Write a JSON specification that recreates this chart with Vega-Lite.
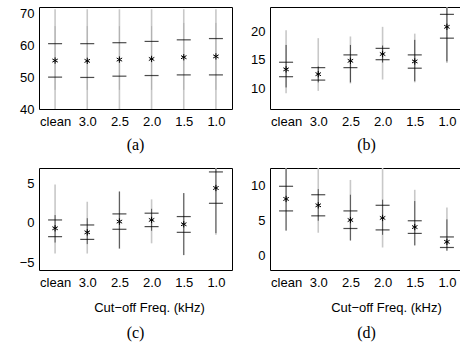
{
  "$schema": "https://vega.github.io/schema/vega-lite/v6.json",
  "padding": {"left": 18, "top": 6, "right": 0, "bottom": 0},
  "background": "white",
  "data": {"values": [
    {"panel": "a", "cat": "clean", "gmin": 40, "gmax": 71.3, "dmin": 46, "dmax": 66, "lo": 50.0, "mean": 55.2, "hi": 60.5},
    {"panel": "a", "cat": "3.0", "gmin": 40, "gmax": 71.3, "dmin": 46, "dmax": 66, "lo": 49.9, "mean": 55.1, "hi": 60.5},
    {"panel": "a", "cat": "2.5", "gmin": 40, "gmax": 71.3, "dmin": 46, "dmax": 66, "lo": 50.3, "mean": 55.5, "hi": 60.8},
    {"panel": "a", "cat": "2.0", "gmin": 40, "gmax": 71.3, "dmin": 46, "dmax": 66, "lo": 50.5, "mean": 55.7, "hi": 61.2},
    {"panel": "a", "cat": "1.5", "gmin": 40, "gmax": 71.3, "dmin": 46, "dmax": 67, "lo": 50.7, "mean": 56.25, "hi": 61.7},
    {"panel": "a", "cat": "1.0", "gmin": 40, "gmax": 71.3, "dmin": 46, "dmax": 67, "lo": 50.7, "mean": 56.5, "hi": 62.1},
    {"panel": "b", "cat": "clean", "gmin": 9.1, "gmax": 20.2, "dmin": 10.1, "dmax": 17.6, "lo": 12.0, "mean": 13.3, "hi": 14.55},
    {"panel": "b", "cat": "3.0", "gmin": 9.5, "gmax": 18.8, "dmin": 11.0, "dmax": 13.8, "lo": 11.4, "mean": 12.45, "hi": 13.6},
    {"panel": "b", "cat": "2.5", "gmin": 10.8, "gmax": 19.1, "dmin": 11.0, "dmax": 17.6, "lo": 13.6, "mean": 14.8, "hi": 15.85},
    {"panel": "b", "cat": "2.0", "gmin": 11.5, "gmax": 20.8, "dmin": 14.5, "dmax": 17.5, "lo": 15.0, "mean": 16.0, "hi": 17.0},
    {"panel": "b", "cat": "1.5", "gmin": 11.0, "gmax": 19.6, "dmin": 11.2, "dmax": 18.5, "lo": 13.5, "mean": 14.7, "hi": 15.85},
    {"panel": "b", "cat": "1.0", "gmin": 14.4, "gmax": 25, "dmin": 14.7, "dmax": 25, "lo": 18.8, "mean": 20.8, "hi": 23.0},
    {"panel": "c", "cat": "clean", "gmin": -3.9, "gmax": 4.9, "dmin": -2.5, "dmax": 1.0, "lo": -1.75, "mean": -0.68, "hi": 0.38},
    {"panel": "c", "cat": "3.0", "gmin": -3.9, "gmax": 2.7, "dmin": -2.7, "dmax": 0.6, "lo": -2.1, "mean": -1.2, "hi": -0.26},
    {"panel": "c", "cat": "2.5", "gmin": -3.3, "gmax": 4.0, "dmin": -3.25, "dmax": 4.0, "lo": -0.81, "mean": 0.17, "hi": 1.15},
    {"panel": "c", "cat": "2.0", "gmin": -2.6, "gmax": 3.0, "dmin": -1.0, "dmax": 1.8, "lo": -0.47, "mean": 0.38, "hi": 1.24},
    {"panel": "c", "cat": "1.5", "gmin": -4.1, "gmax": 3.8, "dmin": -4.1, "dmax": 3.8, "lo": -1.2, "mean": -0.17, "hi": 0.81},
    {"panel": "c", "cat": "1.0", "gmin": -1.5, "gmax": 7.5, "dmin": -1.3, "dmax": 7.5, "lo": 2.5, "mean": 4.45, "hi": 6.5},
    {"panel": "d", "cat": "clean", "gmin": 3.6, "gmax": 13, "dmin": 3.6, "dmax": 13, "lo": 6.4, "mean": 8.1, "hi": 9.9},
    {"panel": "d", "cat": "3.0", "gmin": 3.3, "gmax": 13, "dmin": 5.0, "dmax": 9.5, "lo": 5.7, "mean": 7.2, "hi": 8.7},
    {"panel": "d", "cat": "2.5", "gmin": 2.2, "gmax": 10.8, "dmin": 2.2, "dmax": 8.7, "lo": 3.9, "mean": 5.1, "hi": 6.4},
    {"panel": "d", "cat": "2.0", "gmin": 1.2, "gmax": 13, "dmin": 3.0, "dmax": 8.0, "lo": 3.7, "mean": 5.4, "hi": 7.2},
    {"panel": "d", "cat": "1.5", "gmin": 1.5, "gmax": 9.4, "dmin": 1.5, "dmax": 7.8, "lo": 3.2, "mean": 4.1, "hi": 5.0},
    {"panel": "d", "cat": "1.0", "gmin": 0.75, "gmax": 6.9, "dmin": 0.75, "dmax": 5.2, "lo": 1.2, "mean": 2.0, "hi": 2.7}
  ]},
  "columns": 2,
  "align": "each",
  "spacing": {"row": 13, "column": 16},
  "concat": [
    {
      "width": 193, "height": 102,
      "title": {"text": "(a)", "orient": "bottom", "anchor": "middle", "frame": "group", "offset": 9},
      "transform": [{"filter": "datum.panel == 'a'"}],
      "encoding": {
        "x": {"field": "cat", "type": "ordinal", "sort": ["clean", "3.0", "2.5", "2.0", "1.5", "1.0"], "scale": {"type": "point", "padding": 0.5}, "axis": {"title": null}},
        "y": {"field": "gmin", "type": "quantitative", "scale": {"domain": [40, 72], "nice": false, "zero": false}, "axis": {"tickCount": 4, "title": null}}
      },
      "layer": [
        {"mark": {"type": "rule", "color": "#c8c8c8", "strokeWidth": 1.6, "clip": true}, "encoding": {"y2": {"field": "gmax"}}},
        {"mark": {"type": "rule", "color": "#b0b0b0", "strokeWidth": 1, "clip": true}, "encoding": {"y": {"field": "dmin", "type": "quantitative"}, "y2": {"field": "dmax"}}},
        {"mark": {"type": "tick", "color": "black", "size": 14, "thickness": 1.2}, "encoding": {"y": {"field": "lo", "type": "quantitative"}}},
        {"mark": {"type": "tick", "color": "black", "size": 14, "thickness": 1.2}, "encoding": {"y": {"field": "hi", "type": "quantitative"}}},
        {"mark": {"type": "point", "shape": "M0,-1L0,1M-0.866,-0.5L0.866,0.5M-0.866,0.5L0.866,-0.5", "filled": false, "stroke": "black", "strokeWidth": 1, "size": 40, "opacity": 1}, "encoding": {"y": {"field": "mean", "type": "quantitative"}}}
      ]
    },
    {
      "width": 193, "height": 102,
      "title": {"text": "(b)", "orient": "bottom", "anchor": "middle", "frame": "group", "offset": 9},
      "transform": [{"filter": "datum.panel == 'b'"}],
      "encoding": {
        "x": {"field": "cat", "type": "ordinal", "sort": ["clean", "3.0", "2.5", "2.0", "1.5", "1.0"], "scale": {"type": "point", "padding": 0.5}, "axis": {"title": null}}
      },
      "layer": [
        {"mark": {"type": "rule", "color": "#c8c8c8", "strokeWidth": 1.6, "clip": true}, "encoding": {"y": {"field": "gmin", "type": "quantitative", "scale": {"domain": [6.3, 24.3], "nice": false, "zero": false}, "axis": {"values": [10, 15, 20], "title": null}}, "y2": {"field": "gmax"}}},
        {"mark": {"type": "rule", "color": "#444444", "strokeWidth": 1, "clip": true}, "encoding": {"y": {"field": "dmin", "type": "quantitative"}, "y2": {"field": "dmax"}}},
        {"mark": {"type": "tick", "color": "black", "size": 14, "thickness": 1.2}, "encoding": {"y": {"field": "lo", "type": "quantitative"}}},
        {"mark": {"type": "tick", "color": "black", "size": 14, "thickness": 1.2, "clip": true}, "encoding": {"y": {"field": "hi", "type": "quantitative"}}},
        {"mark": {"type": "point", "shape": "M0,-1L0,1M-0.866,-0.5L0.866,0.5M-0.866,0.5L0.866,-0.5", "filled": false, "stroke": "black", "strokeWidth": 1, "size": 40, "opacity": 1}, "encoding": {"y": {"field": "mean", "type": "quantitative"}}}
      ]
    },
    {
      "width": 193, "height": 102,
      "title": {"text": "(c)", "orient": "bottom", "anchor": "middle", "frame": "group", "offset": 11},
      "transform": [{"filter": "datum.panel == 'c'"}],
      "encoding": {
        "x": {"field": "cat", "type": "ordinal", "sort": ["clean", "3.0", "2.5", "2.0", "1.5", "1.0"], "scale": {"type": "point", "padding": 0.5}, "axis": {"title": "Cut−off Freq. (kHz)", "titleX": 110, "titleAnchor": "middle", "titleAlign": "center"}}
      },
      "layer": [
        {"mark": {"type": "rule", "color": "#c8c8c8", "strokeWidth": 1.6, "clip": true}, "encoding": {"y": {"field": "gmin", "type": "quantitative", "scale": {"domain": [-6, 7], "nice": false, "zero": false}, "axis": {"values": [-5, 0, 5], "title": null}}, "y2": {"field": "gmax"}}},
        {"mark": {"type": "rule", "color": "#555555", "strokeWidth": 1, "clip": true}, "encoding": {"y": {"field": "dmin", "type": "quantitative"}, "y2": {"field": "dmax"}}},
        {"mark": {"type": "tick", "color": "black", "size": 14, "thickness": 1.2}, "encoding": {"y": {"field": "lo", "type": "quantitative"}}},
        {"mark": {"type": "tick", "color": "black", "size": 14, "thickness": 1.2}, "encoding": {"y": {"field": "hi", "type": "quantitative"}}},
        {"mark": {"type": "point", "shape": "M0,-1L0,1M-0.866,-0.5L0.866,0.5M-0.866,0.5L0.866,-0.5", "filled": false, "stroke": "black", "strokeWidth": 1, "size": 40, "opacity": 1}, "encoding": {"y": {"field": "mean", "type": "quantitative"}}}
      ]
    },
    {
      "width": 193, "height": 102,
      "title": {"text": "(d)", "orient": "bottom", "anchor": "middle", "frame": "group", "offset": 11},
      "transform": [{"filter": "datum.panel == 'd'"}],
      "encoding": {
        "x": {"field": "cat", "type": "ordinal", "sort": ["clean", "3.0", "2.5", "2.0", "1.5", "1.0"], "scale": {"type": "point", "padding": 0.5}, "axis": {"title": "Cut−off Freq. (kHz)", "titleX": 116, "titleAnchor": "middle", "titleAlign": "center"}}
      },
      "layer": [
        {"mark": {"type": "rule", "color": "#c8c8c8", "strokeWidth": 1.6, "clip": true}, "encoding": {"y": {"field": "gmin", "type": "quantitative", "scale": {"domain": [-2, 12.5], "nice": false, "zero": false}, "axis": {"values": [0, 5, 10], "title": null}}, "y2": {"field": "gmax"}}},
        {"mark": {"type": "rule", "color": "#555555", "strokeWidth": 1, "clip": true}, "encoding": {"y": {"field": "dmin", "type": "quantitative"}, "y2": {"field": "dmax"}}},
        {"mark": {"type": "tick", "color": "black", "size": 14, "thickness": 1.2}, "encoding": {"y": {"field": "lo", "type": "quantitative"}}},
        {"mark": {"type": "tick", "color": "black", "size": 14, "thickness": 1.2}, "encoding": {"y": {"field": "hi", "type": "quantitative"}}},
        {"mark": {"type": "point", "shape": "M0,-1L0,1M-0.866,-0.5L0.866,0.5M-0.866,0.5L0.866,-0.5", "filled": false, "stroke": "black", "strokeWidth": 1, "size": 40, "opacity": 1}, "encoding": {"y": {"field": "mean", "type": "quantitative"}}}
      ]
    }
  ],
  "config": {
    "font": "Liberation Sans",
    "view": {"stroke": "black", "strokeWidth": 1},
    "axis": {"grid": false, "domain": false, "ticks": false, "labelOverlap": false, "labelFont": "Liberation Sans", "labelFontSize": 13, "labelColor": "black", "labelPadding": 6, "titleFont": "Liberation Sans", "titleFontSize": 13, "titleFontWeight": "normal", "titleColor": "black", "titlePadding": 12},
    "axisX": {"labelAngle": 0},
    "axisY": {"minExtent": 20, "maxExtent": 20, "labelPadding": 5},
    "title": {"font": "Liberation Serif", "fontSize": 16, "fontWeight": "normal", "color": "black"}
  }
}
